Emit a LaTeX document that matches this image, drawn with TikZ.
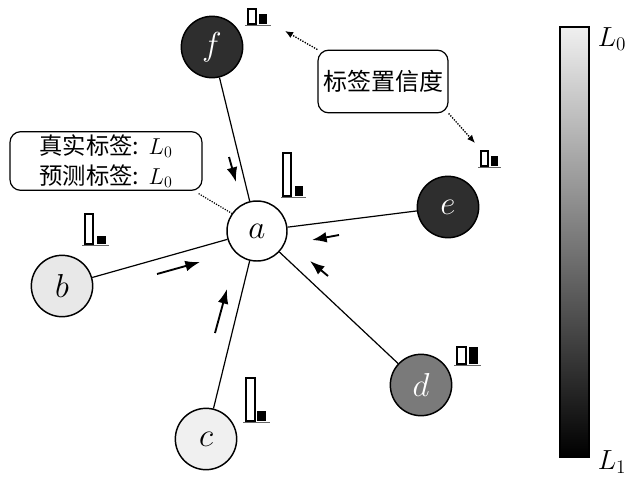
\documentclass[tikz,border=0pt]{standalone}
\usepackage{fontspec}
\newfontfamily\cjk{Noto Sans CJK SC}
\usetikzlibrary{arrows.meta}
\begin{document}
\begin{tikzpicture}[x=0.75pt,y=-0.75pt,
  vtx/.style={circle,draw=black,line width=1.1pt,minimum size=46pt,inner sep=0pt,font=\fontsize{24}{28}\selectfont},
  edge/.style={line width=0.9pt},
  flow/.style={line width=1.4pt,-{Latex[length=11pt,width=8pt]}},
  lbox/.style={draw,rounded corners=8pt,line width=0.9pt,align=center,inner sep=0pt},
  dotlink/.style={densely dotted,line width=0.9pt},
  dotarrow/.style={densely dotted,line width=1pt,-{Latex[length=6pt,width=5pt]}},
  wbar/.style={draw=black,fill=white,line width=1.1pt},
  kbar/.style={fill=black},
  basel/.style={draw=black!60,line width=0.8pt}
]
\fill[white] (0,0) rectangle (630,486);
\useasboundingbox (0,0) rectangle (630,486);

% vertices
\node[vtx,fill=white,minimum size=45pt] (a) at (257,231) {$a$};
\node[vtx,fill=black!82,text=white] (f) at (212,47) {$f$};
\node[vtx,fill=black!82,text=white] (e) at (448,207) {$e$};
\node[vtx,fill=black!9] (b) at (62,286) {$b$};
\node[vtx,fill=black!6] (c) at (206,439) {$c$};
\node[vtx,fill=black!52,text=white] (d) at (421,385) {$d$};

% edges
\draw[edge] (a) -- (f);
\draw[edge] (a) -- (e);
\draw[edge] (a) -- (b);
\draw[edge] (a) -- (c);
\draw[edge] (a) -- (d);

% flow arrows
\coordinate (fs) at (229,157); \coordinate (ft) at (236,182);
\coordinate (bs) at (157,274); \coordinate (bt) at (200,262);
\coordinate (cs) at (215,333); \coordinate (ct) at (227,289);
\coordinate (es) at (339,235); \coordinate (et) at (312,240);
\coordinate (ds) at (328,276); \coordinate (dt) at (310,261);
\draw[flow] (fs) -- (ft);
\draw[flow] (bs) -- (bt);
\draw[flow] (cs) -- (ct);
\draw[flow] (es) -- (et);
\draw[flow] (ds) -- (dt);

% label boxes
\node[lbox,minimum width=144pt,minimum height=44pt,font=\fontsize{17.5}{22.5}\selectfont] (t) at (106,161)
  {{\cjk 真实标签:} $L_0$\\{\cjk 预测标签:} $L_0$};
\draw[dotlink] ([shift={(-3pt,-2pt)}]t.south east) -- (a.145);

\node[lbox,minimum width=97.5pt,minimum height=47pt,font=\fontsize{18}{22}\selectfont\cjk] (conf) at (383,81.5) {标签置信度};
\coordinate (p1) at (285,31);
\coordinate (p2) at (475,143);
\draw[dotarrow] (conf.north west) -- (p1);
\draw[dotarrow] (conf.south east) -- (p2);

% bar charts
% f
\draw[wbar] (248,9) rectangle (256,24); \fill[kbar] (259,14) rectangle (267,24); \draw[basel] (245,25.5) -- (271,25.5);
% a
\draw[wbar] (283,153) rectangle (291,196); \fill[kbar] (295,186) rectangle (303,196); \draw[basel] (281,197.5) -- (306,197.5);
% b
\draw[wbar] (85,214) rectangle (93,244); \fill[kbar] (97,236) rectangle (106,244); \draw[basel] (82,245.5) -- (109,245.5);
% c
\draw[wbar] (246,378) rectangle (255,421); \fill[kbar] (257,411) rectangle (266,421); \draw[basel] (243,422.5) -- (270,422.5);
% d
\draw[wbar] (457,347) rectangle (466,364); \fill[kbar] (469,347) rectangle (478,364); \draw[basel] (454,365.5) -- (481,365.5);
% e
\draw[wbar] (481,151) rectangle (488,166); \fill[kbar] (491,156) rectangle (498,166); \draw[basel] (478,167.5) -- (501,167.5);

% colour bar
\shade[top color=black!6,bottom color=black] (560,27) rectangle (589,457);
\draw[line width=1.1pt] (560,27) rectangle (589,457);
\node[font=\fontsize{22}{24}\selectfont] (l0) at (612,39) {$L_0$};
\node[font=\fontsize{22}{24}\selectfont] (l1) at (612,462) {$L_1$};
\end{tikzpicture}
\end{document}
